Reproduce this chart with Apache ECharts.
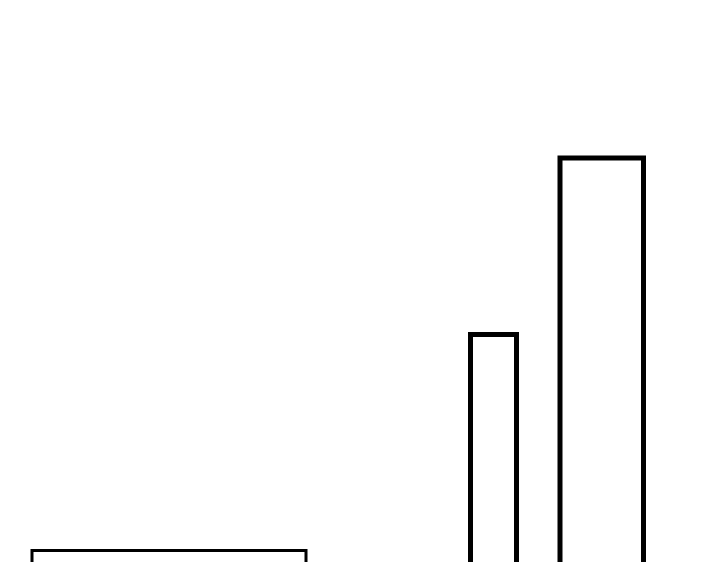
<!DOCTYPE html>
<html>
    <head>
        <meta charset='utf-8'>
        <script src='https://cdn.jsdelivr.net/npm/echarts@6/dist/echarts.min.js'></script>
    </head>
    <body>
        <style>
            html, body, #main {
                width: 720px;
                height: 562px;
                margin: 0;
                background: #fff;
            }
        </style>
        <div id="main"></div>
        <script>
            // bar extents along x (left, right) and heights above the baseline
            var barStarts = [32, 470.5, 560];
            var barEnds = [306, 516.5, 643.5];
            var barHeights = [49.5, 265.5, 442];

            var outlineWidths = [3, 5, 5];

            var bars = [];
            for (var i = 0; i < barHeights.length; i++) {
                bars.push([barStarts[i], barEnds[i], barHeights[i]]);
            }

            var myChart = echarts.init(document.getElementById('main'));
            myChart.setOption({
                backgroundColor: '#fff',
                animation: false,
                grid: { left: 0, right: 0, top: 0, bottom: 0 },
                xAxis: { type: 'value', min: 0, max: 720, show: false },
                // the baseline (0) lies below the visible window
                yAxis: { type: 'value', min: 38, max: 600, show: false },
                series: [{
                    type: 'custom',
                    clip: false,
                    data: bars,
                    renderItem: function (params, api) {
                        var topLeft = api.coord([api.value(0), api.value(2)]);
                        var bottomRight = api.coord([api.value(1), 0]);
                        return {
                            type: 'rect',
                            shape: {
                                x: topLeft[0],
                                y: topLeft[1],
                                width: bottomRight[0] - topLeft[0],
                                height: bottomRight[1] - topLeft[1]
                            },
                            style: {
                                fill: '#fff',
                                stroke: '#000',
                                lineWidth: outlineWidths[params.dataIndex]
                            }
                        };
                    }
                }]
            });
        </script>
    </body>
</html>
